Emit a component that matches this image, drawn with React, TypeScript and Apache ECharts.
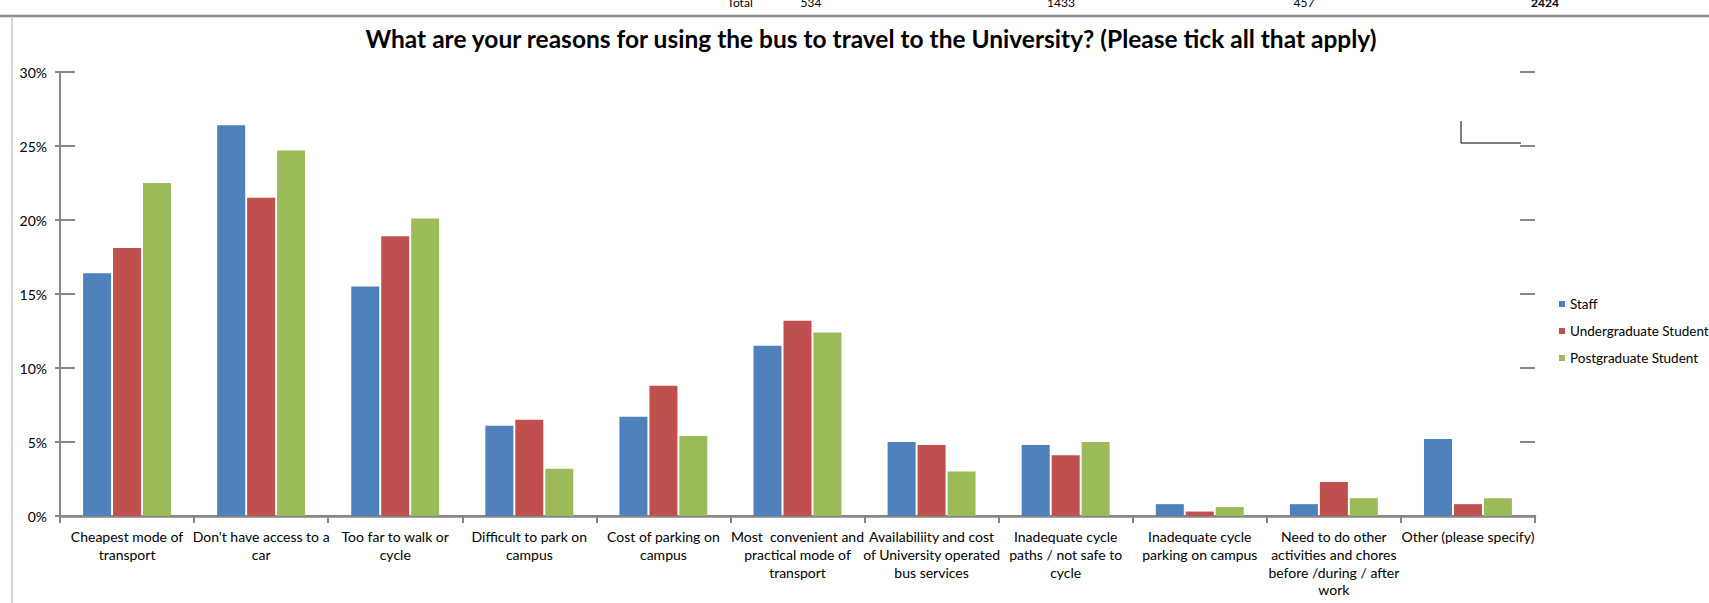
import React, { useEffect, useRef } from "react";
import * as echarts from "echarts";

const categories: string[] = [
  "Cheapest mode of\ntransport",
  "Don't have access to a\ncar",
  "Too far to walk or\ncycle",
  "Difficult to park on\ncampus",
  "Cost of parking on\ncampus",
  "Most  convenient and\npractical mode of\ntransport",
  "Availabiliity and cost\nof University operated\nbus services",
  "Inadequate cycle\npaths / not safe to\ncycle",
  "Inadequate cycle\nparking on campus",
  "Need to do other\nactivities and chores\nbefore /during / after\nwork",
  "Other (please specify)",
];

const seriesNames: string[] = ["Staff", "Undergraduate Student", "Postgraduate Student"];

const staff: number[] = [16.4, 26.4, 15.5, 6.1, 6.7, 11.5, 5.0, 4.8, 0.8, 0.8, 5.2];
const undergraduate: number[] = [18.1, 21.5, 18.9, 6.5, 8.8, 13.2, 4.8, 4.1, 0.3, 2.3, 0.8];
const postgraduate: number[] = [22.5, 24.7, 20.1, 3.2, 5.4, 12.4, 3.0, 5.0, 0.6, 1.2, 1.2];

const yTicks = { min: 0, max: 30, interval: 5 };

const titleText =
  "What are your reasons for using the bus to travel to the University? (Please tick all that apply)";

const topRowLabels: string[] = ["Total", "534", "1433", "457", "2424"];
const topRowX = [740, 811, 1061, 1304, 1545];

const colors = ["#4F81BD", "#C0504D", "#9BBB59"];
const FONT = "Lato, 'Open Sans', sans-serif";
const AXIS_GRAY = "#878787";

export default function App() {
  const ref = useRef<HTMLDivElement>(null);

  useEffect(() => {
    if (!ref.current) return;
    const chart = echarts.init(ref.current, undefined, { renderer: "svg" });
    const values = [staff, undergraduate, postgraduate];

    const graphics: any[] = [
      {
        type: "line",
        shape: { x1: 0, y1: 16, x2: 1709, y2: 16 },
        style: { stroke: "#8c8c8c", lineWidth: 2.5 },
      },
      {
        type: "line",
        shape: { x1: 12, y1: 16, x2: 12, y2: 603 },
        style: { stroke: "#b0b0b0", lineWidth: 1 },
      },
      {
        type: "polyline",
        shape: { points: [[1461, 121], [1461, 143], [1521, 143]] },
        style: { stroke: "#000", lineWidth: 1, fill: null },
      },
      {
        type: "text",
        x: 871,
        y: 38,
        style: {
          text: titleText,
          font: `bold 24.5px ${FONT}`,
          fill: "#000",
          align: "center",
          verticalAlign: "middle",
        },
      },
    ];
    topRowLabels.forEach((t, i) => {
      graphics.push({
        type: "text",
        x: topRowX[i],
        y: 8,
        style: {
          text: t,
          font: `${i === topRowLabels.length - 1 ? "bold " : ""}12px ${FONT}`,
          fill: "#000",
          align: "center",
          verticalAlign: "bottom",
        },
      });
    });

    chart.setOption({
      animation: false,
      backgroundColor: "#fff",
      grid: { left: 60, right: 174, top: 72, bottom: 87, containLabel: false },
      legend: {
        orient: "vertical",
        left: 1559,
        top: 297,
        padding: 0,
        itemWidth: 6,
        itemHeight: 6,
        itemGap: 13,
        icon: "rect",
        textStyle: { fontFamily: FONT, fontSize: 13.5, lineHeight: 14, color: "#000" },
        data: seriesNames,
      },
      xAxis: [
        {
          type: "category",
          data: categories,
          axisLine: { lineStyle: { color: AXIS_GRAY, width: 2 } },
          axisTick: { show: true, length: 7, lineStyle: { color: AXIS_GRAY, width: 2 } },
          axisLabel: {
            interval: 0,
            margin: 12,
            fontFamily: FONT,
            fontSize: 14,
            lineHeight: 17.7,
            color: "#000",
            align: "center",
          },
          splitLine: { show: false },
        },
        {
          type: "category",
          position: "top",
          data: categories,
          axisLine: { lineStyle: { color: AXIS_GRAY, width: 2.5 } },
          axisTick: { show: false },
          axisLabel: { show: false },
          splitLine: { show: false },
        },
      ],
      yAxis: [
        {
          type: "value",
          position: "left",
          min: yTicks.min,
          max: yTicks.max,
          interval: yTicks.interval,
          axisLine: { show: true, lineStyle: { color: AXIS_GRAY, width: 2 } },
          axisTick: { show: true, length: 5, lineStyle: { color: AXIS_GRAY, width: 2 } },
          axisLabel: {
            formatter: "{value}%",
            margin: 13,
            fontFamily: FONT,
            fontSize: 14,
            color: "#000",
          },
          splitLine: { show: false },
        },
        {
          type: "value",
          position: "right",
          min: yTicks.min,
          max: yTicks.max,
          interval: yTicks.interval,
          axisLine: { show: false },
          axisTick: { show: true, inside: true, length: 15, lineStyle: { color: AXIS_GRAY, width: 2 } },
          axisLabel: { show: false },
          splitLine: { show: false },
        },
        {
          type: "value",
          position: "left",
          min: yTicks.min,
          max: yTicks.max,
          interval: yTicks.interval,
          axisLine: { show: false },
          axisTick: { show: true, inside: true, length: 15, lineStyle: { color: AXIS_GRAY, width: 2 } },
          axisLabel: { show: false },
          splitLine: { show: false },
        },
      ],
      series: seriesNames.map((name, i) => ({
        name,
        type: "bar",
        data: values[i],
        barWidth: 28,
        barGap: "7%",
        itemStyle: { color: colors[i] },
      })),
      graphic: graphics,
    });

    return () => chart.dispose();
  }, []);

  return (
    <div
      ref={ref}
      style={{ position: "absolute", left: 0, top: 0, width: 1709, height: 603 }}
    />
  );
}
